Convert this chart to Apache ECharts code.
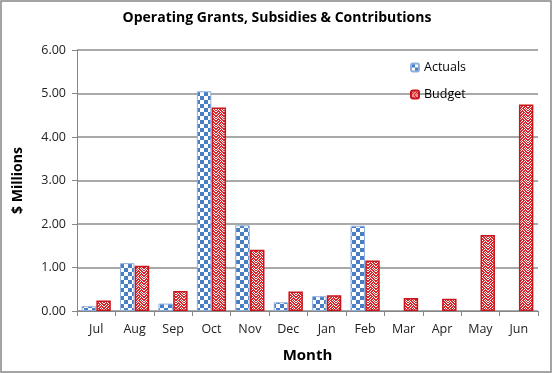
<!DOCTYPE html>
<html><head><meta charset="utf-8">
<script src="https://cdn.jsdelivr.net/npm/echarts@6/dist/echarts.min.js"></script>
<style>html,body{margin:0;padding:0;background:#fff}#c{width:552px;height:373px}</style>
</head><body><div id="c"></div>
<script>
const months = ['Jul','Aug','Sep','Oct','Nov','Dec','Jan','Feb','Mar','Apr','May','Jun'];
const actuals = [0.11, 1.10, 0.17, 5.05, 1.97, 0.20, 0.34, 1.96, null, null, null, null];
const budget = [0.24, 1.04, 0.46, 4.68, 1.41, 0.45, 0.36, 1.16, 0.30, 0.28, 1.75, 4.75];
const yTicks = [0, 1, 2, 3, 4, 5, 6];

function bitmapPattern(rows, fg, bg, scale) {
  const h = rows.length, w = rows[0].length;
  const c = document.createElement('canvas');
  c.width = w * scale; c.height = h * scale;
  const ctx = c.getContext('2d');
  ctx.fillStyle = bg; ctx.fillRect(0, 0, c.width, c.height);
  ctx.fillStyle = fg;
  for (let y = 0; y < h; y++) for (let x = 0; x < w; x++)
    if (rows[y][x] === '1') ctx.fillRect(x * scale, y * scale, scale, scale);
  return c;
}
const checker = bitmapPattern(['10','01'], '#4A7EC4', '#ffffff', 4);
const zigzag = bitmapPattern([
  '11011011',
  '10110101',
  '01101110',
  '11011011',
  '10110101',
  '01011010',
  '10101101',
  '01110110'
], '#D9262B', '#ffffff', 1);

const chart = echarts.init(document.getElementById('c'), null, {renderer: 'canvas'});
chart.setOption({
  animation: false,
  backgroundColor: '#fff',
  graphic: [{type: 'rect', shape: {x: 1, y: 1, width: 550, height: 371}, style: {fill: 'none', stroke: '#878787', lineWidth: 1.5}, z: 100}],
  title: {
    text: 'Operating Grants, Subsidies & Contributions',
    left: 272, top: 6, textAlign: 'center',
    textStyle: {fontFamily: 'Open Sans', fontWeight: 'bold', fontSize: 14, color: '#000'}
  },
  legend: {
    orient: 'vertical', left: 405, top: 56, itemGap: 14,
    itemWidth: 8, itemHeight: 8,
    textStyle: {fontFamily: 'Open Sans', fontSize: 12.5, color: '#000'},
    data: ['Actuals', 'Budget']
  },
  grid: {left: 77, right: 14, top: 50, bottom: 62, containLabel: false},
  xAxis: {
    type: 'category', data: months,
    name: 'Month', nameLocation: 'middle', nameGap: 37,
    nameTextStyle: {fontFamily: 'Open Sans', fontWeight: 'bold', fontSize: 15, color: '#000'},
    axisLine: {lineStyle: {color: '#868686', width: 1}},
    axisTick: {show: true, length: 5, lineStyle: {color: '#868686'}},
    axisLabel: {fontFamily: 'Open Sans', fontSize: 12.5, color: '#222', margin: 12}
  },
  yAxis: {
    type: 'value', min: 0, max: 6, interval: 1,
    name: '$ Millions', nameLocation: 'middle', nameGap: 52, nameRotate: 90,
    nameTextStyle: {fontFamily: 'Open Sans', fontWeight: 'bold', fontSize: 14, color: '#000'},
    axisLine: {show: true, lineStyle: {color: '#868686', width: 1}},
    axisTick: {show: true, length: 5, lineStyle: {color: '#868686'}},
    splitLine: {lineStyle: {color: '#8c8c8c', width: 1.5}},
    axisLabel: {fontFamily: 'Open Sans', fontSize: 12.5, color: '#222', margin: 11,
      formatter: v => yTicks.includes(v) ? v.toFixed(2) : ''}
  },
  series: [
    {name: 'Actuals', type: 'bar', data: actuals, barGap: '2%', barCategoryGap: '24%',
     itemStyle: {color: {image: checker, repeat: 'repeat'}, borderColor: '#8DB0DE', borderWidth: 1}},
    {name: 'Budget', type: 'bar', data: budget,
     itemStyle: {color: {image: zigzag, repeat: 'repeat'}, borderColor: '#C8161C', borderWidth: 1.5}}
  ]
});
</script></body></html>
